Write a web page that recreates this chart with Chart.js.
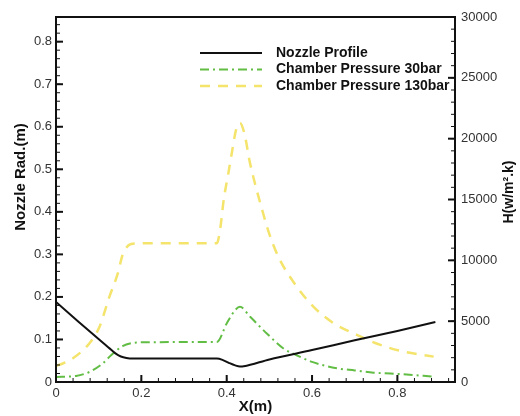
<!DOCTYPE html>
<html lang="en">
  <head>
    <meta charset="UTF-8" />
    <title>Nozzle Profile and Heat Transfer</title>
    <script src="https://cdn.jsdelivr.net/npm/chart.js"></script>
    <style>
      body {
        margin: 0;
        padding: 0;
        background: #fff;
      }
      #chart {
        display: block;
      }
    </style>
  </head>
  <body>
    <canvas id="chart" width="520" height="416"></canvas>
    <script>
      // nozzle radius (m) along the axis
      const nozzleX = [0, 0.04, 0.08, 0.11, 0.13, 0.141, 0.152, 0.165, 0.18, 0.25, 0.3, 0.377, 0.39, 0.405, 0.42, 0.431, 0.44, 0.5, 0.6, 0.7, 0.8, 0.889];
      const nozzleR = [0.188, 0.153, 0.118, 0.092, 0.075, 0.066, 0.06, 0.0565, 0.055, 0.055, 0.055, 0.055, 0.052, 0.045, 0.039, 0.0365, 0.037, 0.053, 0.075, 0.098, 0.12, 0.141];

      // heat transfer coefficient, 30 bar chamber pressure
      const p30X = [0, 0.047, 0.078, 0.109, 0.129, 0.156, 0.18, 0.2, 0.3, 0.377, 0.4, 0.42, 0.431, 0.455, 0.494, 0.533, 0.564, 0.6, 0.658, 0.7, 0.744, 0.814, 0.885];
      const p30H = [410, 500, 820, 1510, 2200, 2940, 3210, 3260, 3280, 3290, 4810, 5910, 6180, 5360, 3990, 2750, 2200, 1650, 1130, 950, 770, 640, 440];

      // heat transfer coefficient, 130 bar chamber pressure
      const p130X = [0, 0.016, 0.039, 0.078, 0.102, 0.125, 0.145, 0.156, 0.176, 0.2, 0.3, 0.377, 0.385, 0.393, 0.404, 0.412, 0.422, 0.431, 0.443, 0.453, 0.467, 0.482, 0.498, 0.521, 0.564, 0.603, 0.65, 0.705, 0.76, 0.814, 0.885];
      const p130H = [1320, 1520, 1930, 3170, 4540, 7000, 8940, 10440, 11350, 11400, 11400, 11400, 12640, 14980, 17180, 18820, 20740, 21300, 20190, 18270, 16210, 14290, 12360, 10300, 7850, 6200, 4840, 3870, 3050, 2500, 2085];

      const seriesNames = ["Nozzle Profile", "Chamber Pressure 30bar", "Chamber Pressure 130bar"];

      // tick labels
      const xTicks = [0, 0.2, 0.4, 0.6, 0.8];
      const radTicks = [0, 0.1, 0.2, 0.3, 0.4, 0.5, 0.6, 0.7, 0.8];
      const hTicks = [0, 5000, 10000, 15000, 20000, 25000, 30000];

      const pts = (xs, ys) => xs.map((x, i) => ({ x: x, y: ys[i] }));
      const font = "'Liberation Sans', Arial, sans-serif";
      Chart.defaults.font.family = font;

      function ticksInside(ctx, scale, step, len, side, a) {
        const n = Math.floor(scale.max / step + 1e-6);
        for (let i = 0; i <= n; i++) {
          const p = scale.getPixelForValue(i * step);
          ctx.beginPath();
          if (side === "bottom") {
            ctx.moveTo(p, a.bottom);
            ctx.lineTo(p, a.bottom - len);
          } else if (side === "left") {
            ctx.moveTo(a.left, p);
            ctx.lineTo(a.left + len, p);
          } else {
            ctx.moveTo(a.right, p);
            ctx.lineTo(a.right - len, p);
          }
          ctx.stroke();
        }
      }

      const frame = {
        id: "frame",
        afterDatasetsDraw(chart) {
          const { ctx, chartArea: a, scales } = chart;
          ctx.save();
          ctx.strokeStyle = "#111";
          ctx.lineWidth = 1;
          ticksInside(ctx, scales.x, 0.04, 4, "bottom", a);
          ticksInside(ctx, scales.yR, 0.02, 4, "left", a);
          ticksInside(ctx, scales.yH, 1000, 4, "right", a);
          ctx.lineWidth = 2;
          ticksInside(ctx, scales.x, 0.2, 7, "bottom", a);
          ticksInside(ctx, scales.yR, 0.1, 7, "left", a);
          ticksInside(ctx, scales.yH, 5000, 7, "right", a);
          ctx.strokeRect(a.left, a.top, a.right - a.left, a.bottom - a.top);

          // legend inside the plot
          chart.data.datasets.forEach((ds, i) => {
            const y = 53 + i * 16.5;
            ctx.beginPath();
            ctx.strokeStyle = ds.borderColor;
            ctx.lineWidth = ds.borderWidth;
            ctx.setLineDash(ds.borderDash || []);
            ctx.moveTo(200, y);
            ctx.lineTo(262, y);
            ctx.stroke();
            ctx.setLineDash([]);
            ctx.fillStyle = "#111";
            ctx.font = "bold 14px " + font;
            ctx.textBaseline = "middle";
            ctx.textAlign = "left";
            ctx.fillText(ds.label, 276, y);
          });

          // vertical axis titles
          ctx.fillStyle = "#111";
          ctx.textAlign = "center";
          ctx.textBaseline = "middle";
          ctx.translate(21, 177);
          ctx.rotate(-Math.PI / 2);
          ctx.font = "bold 15px " + font;
          ctx.fillText("Nozzle Rad.(m)", 0, 0);
          ctx.setTransform(1, 0, 0, 1, 0, 0);
          ctx.translate(509, 192);
          ctx.rotate(-Math.PI / 2);
          ctx.font = "bold 14px " + font;
          ctx.fillText("H(w/m\u00b2.k)", 0, 0);
          ctx.restore();
        },
      };

      new Chart(document.getElementById("chart"), {
        type: "line",
        data: {
          datasets: [
            {
              label: seriesNames[0],
              data: pts(nozzleX, nozzleR),
              yAxisID: "yR",
              borderColor: "#111111",
              borderWidth: 2,
            },
            {
              label: seriesNames[1],
              data: pts(p30X, p30H),
              yAxisID: "yH",
              borderColor: "#62bd45",
              borderWidth: 2,
              borderDash: [9, 4, 2, 4],
            },
            {
              label: seriesNames[2],
              data: pts(p130X, p130H),
              yAxisID: "yH",
              borderColor: "#f4e46c",
              borderWidth: 2.5,
              borderDash: [10, 8],
            },
          ],
        },
        options: {
          responsive: false,
          animation: false,
          layout: { padding: { top: 17, left: 0, right: 0, bottom: 0 } },
          elements: {
            point: { radius: 0 },
            line: { cubicInterpolationMode: "monotone" },
          },
          plugins: {
            legend: { display: false },
            tooltip: { enabled: false },
          },
          scales: {
            x: {
              type: "linear",
              min: 0,
              max: 0.935,
              afterBuildTicks: (s) => (s.ticks = xTicks.map((v) => ({ value: v }))),
              afterFit: (s) => (s.height = 34),
              grid: { display: false, drawTicks: false },
              border: { display: false },
              ticks: {
                padding: 4,
                color: "#333",
                font: { size: 13 },
                maxRotation: 0,
                callback: (v) => String(v),
              },
              title: {
                display: true,
                text: "X(m)",
                color: "#111",
                font: { size: 15, weight: "bold" },
                padding: { top: 0, bottom: 0 },
              },
            },
            yR: {
              position: "left",
              min: 0,
              max: 0.858,
              afterBuildTicks: (s) => (s.ticks = radTicks.map((v) => ({ value: v }))),
              afterFit: (s) => (s.width = 56),
              grid: { display: false, drawTicks: false },
              border: { display: false },
              ticks: {
                padding: 4,
                color: "#333",
                font: { size: 13 },
                callback: (v) => String(v),
              },
            },
            yH: {
              position: "right",
              min: 0,
              max: 30000,
              afterBuildTicks: (s) => (s.ticks = hTicks.map((v) => ({ value: v }))),
              afterFit: (s) => (s.width = 65),
              grid: { display: false, drawTicks: false },
              border: { display: false },
              ticks: {
                padding: 6,
                color: "#333",
                font: { size: 13 },
                callback: (v) => String(v),
              },
            },
          },
        },
        plugins: [frame],
      });
    </script>
  </body>
</html>
